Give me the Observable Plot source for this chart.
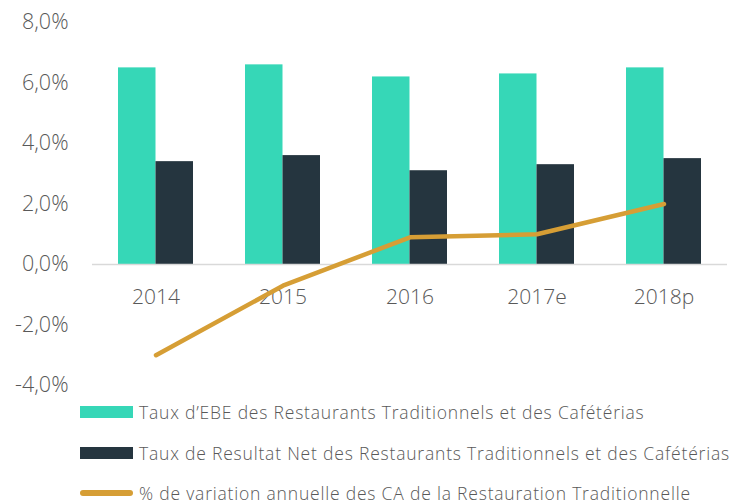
<!DOCTYPE html>
<html>
<head>
<meta charset="utf-8">
<script src="https://cdn.jsdelivr.net/npm/d3@7"></script>
<script src="https://cdn.jsdelivr.net/npm/@observablehq/plot@0.6"></script>
<style>
  html, body { margin: 0; padding: 0; background: #fff; }
  body { width: 732px; height: 503px; overflow: hidden; font-family: "Open Sans", Lato, sans-serif; font-weight: 300; }
  #chart svg { display: block; }
  #legend { position: absolute; left: 80px; top: 392px; }
  .row { height: 40.5px; display: flex; align-items: center; font-size: 17.5px; letter-spacing: 0.8px; color: #595959; white-space: nowrap; }
  .sw { width: 53px; height: 12px; margin-right: 6px; flex: none; }
  .ln { width: 53px; height: 6px; border-radius: 3px; margin-right: 6px; flex: none; }
</style>
</head>
<body>
<div id="chart"></div>
<div id="legend"></div>
<script>
const years = ["2014", "2015", "2016", "2017e", "2018p"];
const ebe = [6.5, 6.6, 6.2, 6.3, 6.5];
const resultatNet = [3.4, 3.6, 3.1, 3.3, 3.5];
const variationCA = [-3.0, -0.7, 0.9, 1.0, 2.0];
const seriesNames = [
  "Taux d’EBE des Restaurants Traditionnels et des Cafétérias",
  "Taux de Resultat Net des Restaurants Traditionnels et des Cafétérias",
  "% de variation annuelle des CA de la Restauration Traditionnelle"
];
const colors = ["#36D7B7", "#25353F", "#D69E35"];
const yTicks = [-4, -2, 0, 2, 4, 6, 8];

const ebeData = years.map((y, i) => ({year: y, value: ebe[i]}));
const rnData = years.map((y, i) => ({year: y, value: resultatNet[i]}));
const caData = years.map((y, i) => ({year: y, value: variationCA[i]}));

const fmt = d => d.toFixed(1).replace(".", ",") + "%";

const chart = Plot.plot({
  width: 732,
  height: 398,
  marginTop: 22,
  marginBottom: 13,
  marginLeft: 92,
  marginRight: 5,
  style: {fontFamily: "'Open Sans', Lato, sans-serif", fontWeight: 300, color: "#595959", background: "#fff"},
  x: {domain: years, padding: 0, axis: null},
  y: {domain: [-4, 8], ticks: yTicks, tickFormat: fmt},
  marks: [
    Plot.axisY({ticks: yTicks, tickFormat: fmt, tickSize: 0, tickPadding: 24, fontSize: 21.5, fill: "#595959", label: null}),
    Plot.barY(ebeData, {x: "year", y: "value", fill: colors[0], insetLeft: 26, insetRight: 63.5}),
    Plot.barY(rnData, {x: "year", y: "value", fill: colors[1], insetLeft: 63.5, insetRight: 26}),
    Plot.ruleY([0], {stroke: "#d9d9d9", strokeWidth: 1.5}),
    Plot.text(years, {x: d => d, y: 0, dy: 33, text: d => d, fontSize: 21, fill: "#595959"}),
    Plot.lineY(caData, {x: "year", y: "value", stroke: colors[2], strokeWidth: 4.5, strokeLinecap: "round", strokeLinejoin: "round"})
  ]
});
document.getElementById("chart").appendChild(chart);

const legend = document.getElementById("legend");
seriesNames.forEach((name, i) => {
  const row = document.createElement("div");
  row.className = "row";
  const sw = document.createElement("div");
  sw.className = i < 2 ? "sw" : "ln";
  sw.style.background = colors[i];
  const t = document.createElement("span");
  t.textContent = name;
  row.appendChild(sw);
  row.appendChild(t);
  legend.appendChild(row);
});
</script>
</body>
</html>
